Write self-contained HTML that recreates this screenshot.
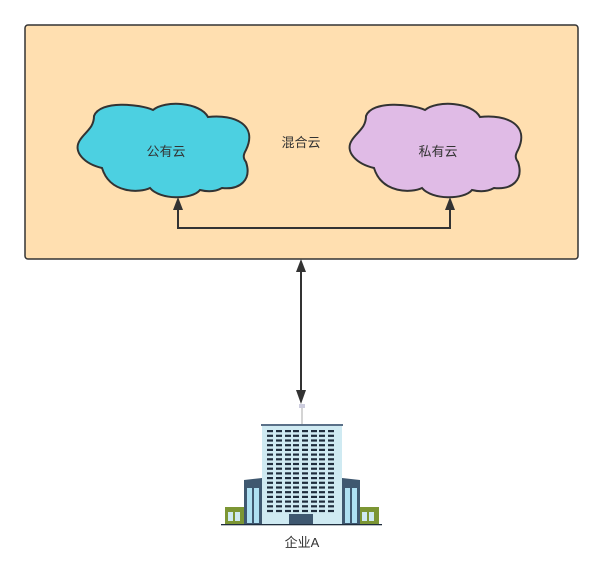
<!DOCTYPE html>
<html><head><meta charset="utf-8"><style>
html,body{margin:0;padding:0;background:#fff;}
svg{display:block;}
text{font-family:"Liberation Sans","Noto Sans CJK SC",sans-serif;font-size:13px;fill:#333;}
</style></head><body>
<svg width="603" height="564" viewBox="0 0 603 564" xmlns="http://www.w3.org/2000/svg">
<defs>
<path id="cloud" d="M94,116 C100,100 140,104 153,110 C165,100 200,102 208,117 C235,114 258,125 246,150 C243,155 243,158 246,162 C252,180 240,190 222,188 C215,192 208,192 200,190 C192,200 160,200 150,188 C140,193 110,194 102,168 C85,164 72,152 80,140 C85,132 94,128 94,116 Z"/>
</defs>
<rect x="25" y="25" width="553" height="234" rx="3" fill="#ffdfb0" stroke="#333" stroke-width="1.5"/>
<use href="#cloud" fill="#4cd0e1" stroke="#333" stroke-width="2"/>
<use href="#cloud" transform="translate(272,0)" fill="#e0bbe6" stroke="#333" stroke-width="2"/>
<text x="166" y="156" text-anchor="middle">公有云</text>
<text x="438" y="156" text-anchor="middle">私有云</text>
<text x="301" y="147" text-anchor="middle">混合云</text>
<polyline points="178,208 178,228 450,228 450,208" fill="none" stroke="#333" stroke-width="2"/>
<polygon points="178,197 173,210 183,210" fill="#333"/>
<polygon points="450,197 445,210 455,210" fill="#333"/>
<line x1="301" y1="270" x2="301" y2="392" stroke="#333" stroke-width="2"/>
<polygon points="301,259 296,272 306,272" fill="#333"/>
<polygon points="301,404 296,390 306,390" fill="#333"/>
<!-- building -->
<line x1="302" y1="404" x2="302" y2="424" stroke="#aaa" stroke-width="1"/>
<rect x="299" y="404" width="6" height="4" fill="#ccd"/>
<rect x="261" y="424" width="82" height="2" fill="#5a7088"/>
<rect x="262" y="426" width="80" height="99" fill="#cfeaf2"/>
<g fill="#1f2d3d">
<g id="row">
<rect x="267" y="430" width="6" height="2.2"/><rect x="276" y="430" width="6" height="2.2"/><rect x="285" y="430" width="6" height="2.2"/><rect x="293" y="430" width="6" height="2.2"/><rect x="302" y="430" width="6" height="2.2"/><rect x="311" y="430" width="6" height="2.2"/><rect x="319" y="430" width="6" height="2.2"/><rect x="328" y="430" width="6" height="2.2"/>
</g>
<use href="#row" y="4.7"/><use href="#row" y="9.4"/><use href="#row" y="14.1"/><use href="#row" y="18.8"/><use href="#row" y="23.5"/><use href="#row" y="28.2"/><use href="#row" y="32.9"/><use href="#row" y="37.6"/><use href="#row" y="42.3"/><use href="#row" y="47"/><use href="#row" y="51.7"/><use href="#row" y="56.4"/><use href="#row" y="61.1"/><use href="#row" y="65.8"/><use href="#row" y="70.5"/><use href="#row" y="75.2"/><use href="#row" y="79.9"/>
</g>
<rect x="289" y="514" width="24" height="11" fill="#3f5870"/>
<polygon points="244,480 262,478 262,525 244,525" fill="#3f5870"/>
<polygon points="342,478 360,480 360,525 342,525" fill="#3f5870"/>
<rect x="247" y="488" width="5" height="35" fill="#aee0f2"/><rect x="254" y="488" width="5" height="35" fill="#aee0f2"/>
<rect x="345" y="488" width="5" height="35" fill="#aee0f2"/><rect x="352" y="488" width="5" height="35" fill="#aee0f2"/>
<rect x="225" y="507" width="19" height="18" fill="#7c9634"/>
<rect x="360" y="507" width="19" height="18" fill="#7c9634"/>
<rect x="228" y="512" width="5" height="9" fill="#cfeaf2"/><rect x="235" y="512" width="5" height="9" fill="#cfeaf2"/>
<rect x="362" y="512" width="5" height="9" fill="#cfeaf2"/><rect x="369" y="512" width="5" height="9" fill="#cfeaf2"/>
<rect x="221" y="524" width="161" height="1.3" fill="#1f2d3d"/>
<text x="302" y="547" text-anchor="middle">企业A</text>
</svg>
</body></html>
